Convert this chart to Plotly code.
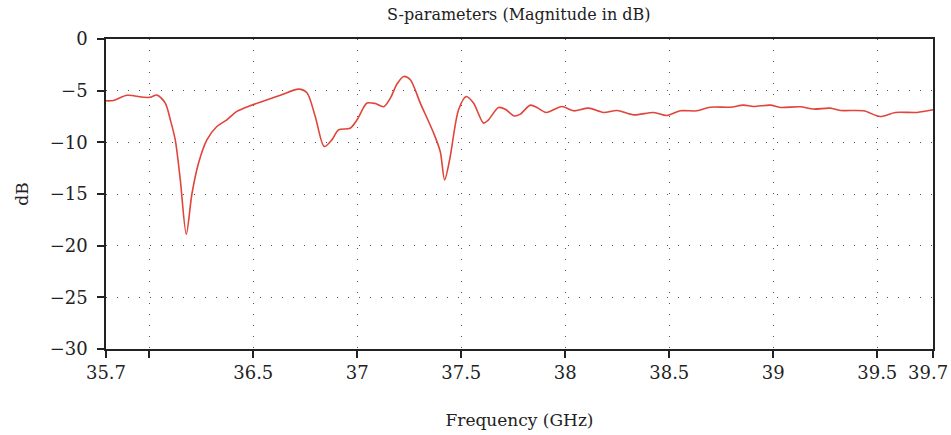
import plotly.graph_objects as go

freq_ghz = [35.792, 35.828, 35.893, 35.973, 36.005, 36.037, 36.077, 36.101, 36.125, 36.149,
            36.178, 36.205, 36.237, 36.277, 36.325, 36.373, 36.421, 36.485, 36.550, 36.630,
            36.718, 36.758, 36.798, 36.841, 36.878, 36.910, 36.966, 36.999, 37.047, 37.087,
            37.127, 37.159, 37.191, 37.223, 37.255, 37.303, 37.367, 37.399, 37.420, 37.444,
            37.487, 37.524, 37.559, 37.607, 37.631, 37.679, 37.712, 37.755, 37.784, 37.832,
            37.864, 37.908, 37.984, 38.040, 38.112, 38.184, 38.249, 38.328, 38.425, 38.489,
            38.553, 38.633, 38.697, 38.793, 38.857, 38.905, 38.986, 39.034, 39.130, 39.194,
            39.274, 39.322, 39.434, 39.514, 39.587, 39.691, 39.768]
s_db = [-5.98, -5.95, -5.45, -5.64, -5.64, -5.42, -6.2, -7.8, -9.76, -13.6,
        -18.9, -15.0, -12.0, -9.76, -8.47, -7.82, -7.01, -6.46, -6.0, -5.45,
        -4.85, -5.2, -7.5, -10.4, -9.76, -8.79, -8.63, -7.82, -6.2, -6.25,
        -6.55, -5.72, -4.35, -3.62, -3.94, -6.2, -9.1, -10.9, -13.63, -11.7,
        -6.85, -5.56, -6.2, -8.14, -7.82, -6.63, -6.8, -7.45, -7.27, -6.4,
        -6.63, -7.11, -6.53, -6.95, -6.69, -7.11, -6.92, -7.34, -7.11, -7.4,
        -6.95, -6.95, -6.6, -6.6, -6.4, -6.53, -6.4, -6.63, -6.56, -6.78,
        -6.69, -6.92, -6.95, -7.5, -7.11, -7.11, -6.85]

x_range = [35.792, 39.768]
x_tickvals = [35.792, 36.0, 36.5, 37.0, 37.5, 38.0, 38.5, 39.0, 39.5, 39.768]
x_ticktext = ["35.7", "", "36.5", "37", "37.5", "38", "38.5", "39", "39.5", ""]
x_last_label = "39.7"
y_tickvals = [0, -5, -10, -15, -20, -25, -30]

FONT = "DejaVu Serif"
INK = "#222222"
TICK_SIZE = 18

fig = go.Figure()
fig.add_trace(go.Scatter(
    x=freq_ghz, y=s_db, mode="lines",
    line=dict(color="#e0443a", width=1.6, shape="spline", smoothing=0.8),
    hoverinfo="skip", showlegend=False,
))

axis_common = dict(
    automargin=False, ticklabeloverflow="allow",
    showline=True, linecolor=INK, linewidth=1.5, mirror=True,
    ticks="outside", ticklen=7, tickwidth=1.5, tickcolor=INK,
    showgrid=True, gridcolor="#555555", gridwidth=1, griddash="1px,10px",
    zeroline=False, tickfont=dict(family=FONT, size=TICK_SIZE, color=INK),
)

fig.update_xaxes(
    range=x_range, tickmode="array", tickvals=x_tickvals, ticktext=x_ticktext,
    title=dict(text="Frequency (GHz)", font=dict(family=FONT, size=17, color=INK), standoff=32),
    **axis_common,
)
fig.update_yaxes(
    range=[-30, 0], tickmode="array", tickvals=y_tickvals,
    ticklabelstandoff=6,
    title=dict(text="dB", font=dict(family=FONT, size=17, color=INK), standoff=17),
    **axis_common,
)

# last x tick label, kept inside the page edge
fig.add_annotation(
    text=x_last_label, xref="paper", yref="paper", x=1, y=0,
    xanchor="right", yanchor="middle", xshift=17, yshift=-23,
    showarrow=False, font=dict(family=FONT, size=TICK_SIZE, color=INK),
)

fig.update_layout(
    width=951, height=435,
    margin=dict(l=106, r=18, t=39, b=86, autoexpand=False),
    paper_bgcolor="white", plot_bgcolor="white",
    title=dict(text="S-parameters (Magnitude in dB)", x=0.5455, xanchor="center",
               y=1 - 14 / 435, yref="container", yanchor="middle",
               font=dict(family=FONT, size=16, color=INK)),
)

fig.write_html("out.html")
